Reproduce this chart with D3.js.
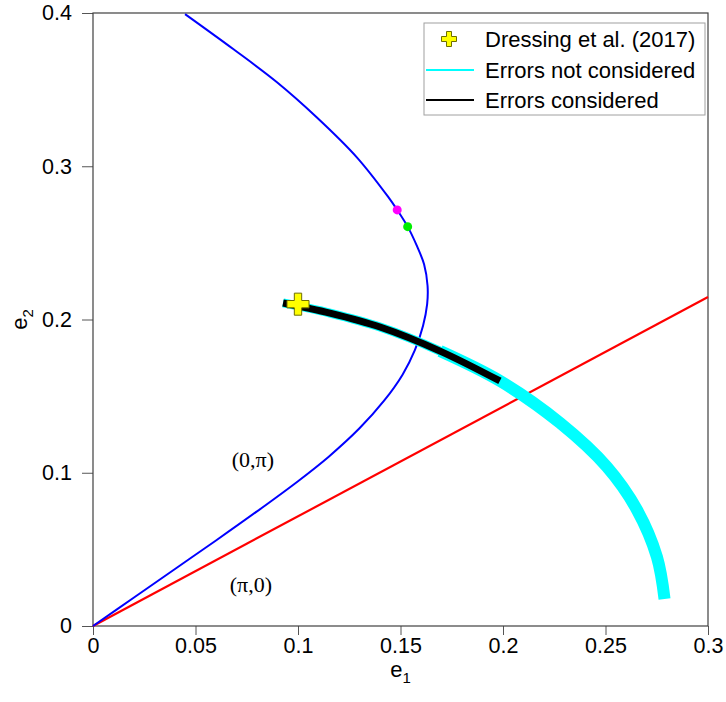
<!DOCTYPE html>
<html>
<head>
<meta charset="utf-8">
<script src="https://cdn.jsdelivr.net/npm/d3@7"></script>
<style>
  body { margin: 0; background: #fff; }
  text { font-family: "Liberation Sans", Arial, sans-serif; }
</style>
</head>
<body>
<svg width="726" height="702"></svg>
<script>
// blue curve (e1, e2)
var blueE1 = [0, 0.02, 0.04, 0.06, 0.08, 0.1, 0.115, 0.13, 0.142, 0.151, 0.157, 0.161, 0.163, 0.1632, 0.1615, 0.158, 0.1535, 0.1484, 0.144, 0.1286, 0.1091, 0.0896, 0.0684, 0.0449];
var blueE2 = [0, 0.0186, 0.0372, 0.0558, 0.0748, 0.0945, 0.1105, 0.129, 0.147, 0.164, 0.18, 0.196, 0.21, 0.222, 0.236, 0.248, 0.2606, 0.2715, 0.28, 0.306, 0.332, 0.355, 0.3765, 0.3993];

// red line
var redE1 = [0, 0.3];
var redE2 = [0, 0.2147];

// solution band: cyan over all points, black over the first ones
var bandE1 = [0.0927, 0.1156, 0.14, 0.1693, 0.1985, 0.2278, 0.2507, 0.2654, 0.2751, 0.2788];
var bandE2 = [0.2108, 0.2042, 0.1951, 0.1794, 0.1599, 0.1325, 0.1038, 0.0757, 0.045, 0.0176];
var blackCount = 5;

var dressing = [0.1, 0.21];

var dotE1 = [0.1484, 0.1535];
var dotE2 = [0.2715, 0.2606];
var dotColors = ["#ff00ff", "#00ee00"];

var xTicks = [0, 0.05, 0.1, 0.15, 0.2, 0.25, 0.3];
var xMinor = d3.range(0, 31).map(function (i) { return i / 100; });
var yTicks = [0, 0.1, 0.2, 0.3, 0.4];
var yMinor = d3.range(0, 17).map(function (i) { return i * 0.025; });

var legendLabels = ["Dressing et al. (2017)", "Errors not considered", "Errors considered"];

var svg = d3.select("svg");
var pLeft = 93, pRight = 708, pTop = 13, pBottom = 626;

var x = d3.scaleLinear().domain([0, 0.3]).range([pLeft, pRight]);
var y = d3.scaleLinear().domain([0, 0.4]).range([pBottom, pTop]);

function pts(a, b) {
  return a.map(function (d, i) { return [d, b[i]]; });
}

var line = d3.line()
  .x(function (d) { return x(d[0]); })
  .y(function (d) { return y(d[1]); });
var smooth = d3.line()
  .x(function (d) { return x(d[0]); })
  .y(function (d) { return y(d[1]); })
  .curve(d3.curveCatmullRom);

// axes
var gx = svg.append("g").attr("transform", "translate(0," + pBottom + ")");
gx.call(d3.axisBottom(x).tickValues(xMinor).tickSize(5).tickFormat(""));
gx.call(d3.axisBottom(x).tickValues(xTicks).tickSize(9).tickPadding(3)
  .tickFormat(function (d) { return String(d); }));
gx.selectAll(".domain").remove();

var gy = svg.append("g").attr("transform", "translate(" + pLeft + ",0)");
gy.call(d3.axisLeft(y).tickValues(yMinor).tickSize(5).tickFormat(""));
gy.call(d3.axisLeft(y).tickValues(yTicks).tickSize(11).tickPadding(10)
  .tickFormat(function (d) { return String(d); }));
gy.selectAll(".domain").remove();

svg.selectAll(".tick line").attr("stroke", "#555");
svg.selectAll(".tick text")
  .attr("font-size", 21.5)
  .attr("font-family", "Liberation Sans, Arial, sans-serif")
  .attr("fill", "#000");

// frame
svg.append("rect")
  .attr("x", pLeft).attr("y", pTop)
  .attr("width", pRight - pLeft).attr("height", pBottom - pTop)
  .attr("fill", "none").attr("stroke", "#404040").attr("stroke-width", 1.2);

var plot = svg.append("g");

// red line
plot.append("path")
  .attr("d", line(pts(redE1, redE2)))
  .attr("fill", "none").attr("stroke", "#ff0000").attr("stroke-width", 2.2);

// blue curve
plot.append("path")
  .attr("d", smooth(pts(blueE1, blueE2)))
  .attr("fill", "none").attr("stroke", "#0000ff").attr("stroke-width", 2);

var band = pts(bandE1, bandE2);
// cyan band: narrow part under the black curve, wider tail after it
plot.append("path")
  .attr("d", smooth(band.slice(0, blackCount)))
  .attr("fill", "none").attr("stroke", "#00ffff").attr("stroke-width", 9);
plot.append("path")
  .attr("d", smooth(band.slice(blackCount - 2)))
  .attr("fill", "none").attr("stroke", "#00ffff").attr("stroke-width", 12);
plot.append("path")
  .attr("d", smooth(band.slice(0, blackCount)))
  .attr("fill", "none").attr("stroke", "#000").attr("stroke-width", 7);

// dots on the blue curve
plot.selectAll(".dot")
  .data(pts(dotE1, dotE2))
  .enter().append("circle")
  .attr("class", "dot")
  .attr("cx", function (d) { return x(d[0]); })
  .attr("cy", function (d) { return y(d[1]); })
  .attr("r", 4.5)
  .attr("fill", function (d, i) { return dotColors[i]; });

// Dressing et al. cross
plot.append("path")
  .attr("d", d3.symbol().type(d3.symbolCross).size(270)())
  .attr("transform", "translate(" + x(dressing[0]) + "," + y(dressing[1]) + ")")
  .attr("fill", "#ffff00").attr("stroke", "#6e6e00").attr("stroke-width", 1);

// region labels
svg.append("text")
  .attr("x", x(0.078)).attr("y", y(0.1085))
  .attr("text-anchor", "middle").attr("dy", "0.35em")
  .style("font-family", "Liberation Serif, Times New Roman, serif")
  .attr("font-size", 22)
  .text("(0,\u03c0)");
svg.append("text")
  .attr("x", x(0.077)).attr("y", y(0.0275))
  .attr("text-anchor", "middle").attr("dy", "0.35em")
  .style("font-family", "Liberation Serif, Times New Roman, serif")
  .attr("font-size", 22)
  .text("(\u03c0,0)");

// axis titles
var xt = svg.append("text")
  .attr("x", x(0.15)).attr("y", 677)
  .attr("text-anchor", "middle").attr("font-size", 22);
xt.append("tspan").text("e");
xt.append("tspan").attr("font-size", 15).attr("dy", 6).text("1");

var yt = svg.append("text")
  .attr("transform", "translate(27," + y(0.2) + ") rotate(-90)")
  .attr("text-anchor", "middle").attr("font-size", 22);
yt.append("tspan").text("e");
yt.append("tspan").attr("font-size", 15).attr("dy", 6).text("2");

// legend
var lg = svg.append("g");
lg.append("rect")
  .attr("x", 424).attr("y", 23).attr("width", 281).attr("height", 92)
  .attr("fill", "#fff").attr("stroke", "#a0a0a0").attr("stroke-width", 1);
var rowY = [39, 70, 100];
lg.append("path")
  .attr("d", d3.symbol().type(d3.symbolCross).size(125)())
  .attr("transform", "translate(449," + rowY[0] + ")")
  .attr("fill", "#ffff00").attr("stroke", "#6e6e00").attr("stroke-width", 1);
lg.append("line")
  .attr("x1", 426).attr("x2", 474).attr("y1", rowY[1]).attr("y2", rowY[1])
  .attr("stroke", "#00ffff").attr("stroke-width", 2);
lg.append("line")
  .attr("x1", 426).attr("x2", 474).attr("y1", rowY[2]).attr("y2", rowY[2])
  .attr("stroke", "#000").attr("stroke-width", 2);
lg.selectAll(".lt")
  .data(legendLabels)
  .enter().append("text")
  .attr("class", "lt")
  .attr("x", 485)
  .attr("y", function (d, i) { return rowY[i]; })
  .attr("dy", "0.35em")
  .attr("font-size", 22)
  .text(function (d) { return d; });
</script>
</body>
</html>
